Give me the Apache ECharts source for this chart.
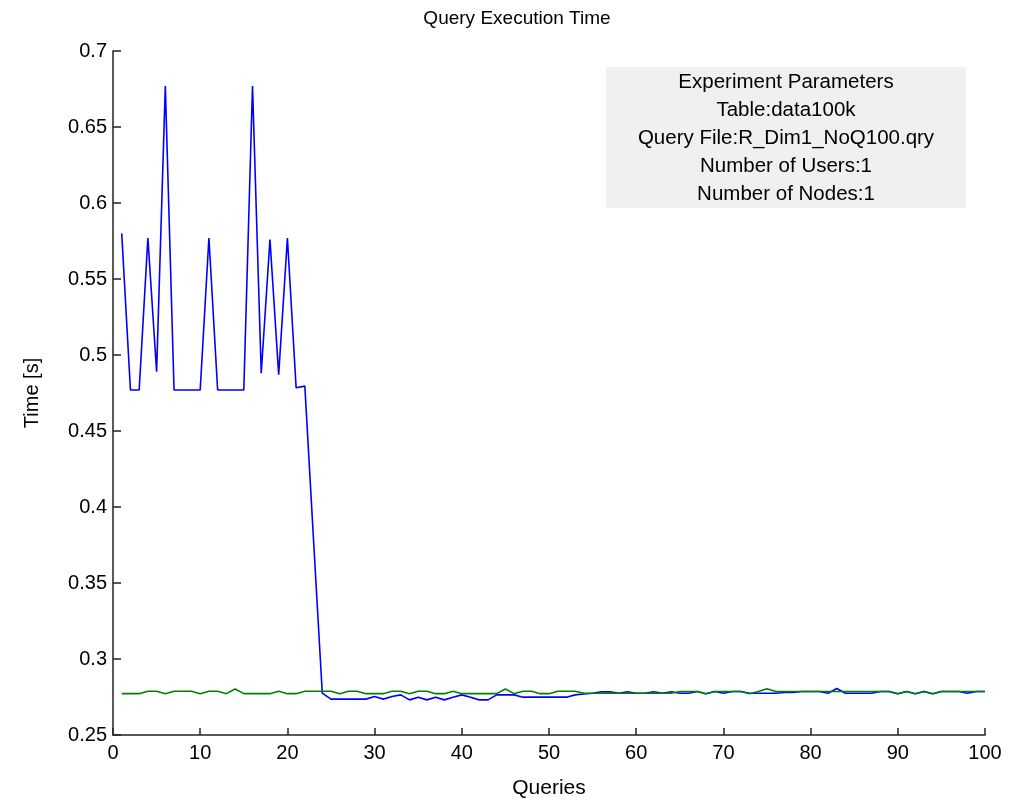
<!DOCTYPE html>
<html>
<head>
<meta charset="utf-8">
<script src="https://cdn.jsdelivr.net/npm/echarts@6/dist/echarts.min.js"></script>
<style>
  html, body { margin: 0; padding: 0; background: #fff; }
  #main { width: 1009px; height: 806px; }
</style>
</head>
<body>
<div id="main"></div>
<script>
// values, one per query (1..100)
var blueTimes = [
    0.580, 0.477, 0.477, 0.577, 0.489, 0.677, 0.477, 0.477, 0.477, 0.477,
    0.577, 0.477, 0.477, 0.477, 0.477, 0.677, 0.488, 0.576, 0.487, 0.577,
    0.4785, 0.4795, 0.378, 0.2775, 0.2736, 0.2736, 0.2736, 0.2736, 0.2736, 0.2753,
    0.2736, 0.2753, 0.2764, 0.2731, 0.2749, 0.2731, 0.2749, 0.2731, 0.2749, 0.2764,
    0.2749, 0.2731, 0.2731, 0.2764, 0.2764, 0.2764, 0.2749, 0.2749, 0.2749, 0.2749,
    0.2749, 0.2749, 0.2764, 0.2770, 0.2775, 0.2784, 0.2784, 0.2775, 0.2784, 0.2775,
    0.2775, 0.2784, 0.2775, 0.2784, 0.2775, 0.2775, 0.2786, 0.2772, 0.2786, 0.2775,
    0.2786, 0.2786, 0.2775, 0.2775, 0.2775, 0.2775, 0.2780, 0.2780, 0.2786, 0.2786,
    0.2786, 0.2775, 0.2806, 0.2775, 0.2775, 0.2775, 0.2775, 0.2786, 0.2786, 0.2772,
    0.2786, 0.2772, 0.2786, 0.2772, 0.2786, 0.2786, 0.2786, 0.2775, 0.2786, 0.2786
];
var greenTimes = [
    0.2772, 0.2772, 0.2772, 0.2788, 0.2788, 0.2772, 0.2788, 0.2788, 0.2788, 0.2772,
    0.2788, 0.2788, 0.2772, 0.2803, 0.2772, 0.2772, 0.2772, 0.2772, 0.2788, 0.2772,
    0.2772, 0.2788, 0.2788, 0.2788, 0.2788, 0.2772, 0.2788, 0.2788, 0.2772, 0.2772,
    0.2772, 0.2788, 0.2788, 0.2772, 0.2788, 0.2788, 0.2772, 0.2772, 0.2788, 0.2772,
    0.2772, 0.2772, 0.2772, 0.2772, 0.2803, 0.2772, 0.2788, 0.2788, 0.2772, 0.2772,
    0.2788, 0.2788, 0.2788, 0.2775, 0.2775, 0.2775, 0.2775, 0.2775, 0.2775, 0.2775,
    0.2775, 0.2775, 0.2775, 0.2775, 0.2786, 0.2786, 0.2786, 0.2772, 0.2786, 0.2786,
    0.2786, 0.2786, 0.2772, 0.2786, 0.2805, 0.2786, 0.2786, 0.2786, 0.2786, 0.2786,
    0.2786, 0.2786, 0.2786, 0.2786, 0.2786, 0.2786, 0.2786, 0.2786, 0.2786, 0.2772,
    0.2786, 0.2772, 0.2786, 0.2772, 0.2786, 0.2786, 0.2786, 0.2786, 0.2786, 0.2786
];
var paramLines = [
    "Experiment Parameters",
    "Table:data100k",
    "Query File:R_Dim1_NoQ100.qry",
    "Number of Users:1",
    "Number of Nodes:1"
];

function toPoints(values) {
    var pts = [];
    for (var i = 0; i < values.length; ++i) {
        pts.push([i + 1, values[i]]);
    }
    return pts;
}

var font = "'Liberation Sans', Arial, sans-serif";
var chart = echarts.init(document.getElementById("main"), null, { renderer: "canvas" });
var option = {
    animation: false,
    backgroundColor: "#fff",
    title: {
        text: "Query Execution Time",
        left: 512,
        top: 4,
        textAlign: "center",
        textStyle: { fontFamily: font, fontSize: 19, fontWeight: "normal", color: "#000" }
    },
    grid: { left: 113, right: 24, top: 51, bottom: 71, containLabel: false },
    xAxis: {
        type: "value",
        min: 0,
        max: 100,
        interval: 10,
        name: "Queries",
        nameLocation: "middle",
        nameGap: 43,
        nameTextStyle: { fontFamily: font, fontSize: 21, color: "#000" },
        axisLine: { show: true, onZero: false, lineStyle: { color: "#222", width: 1.5 } },
        axisTick: { show: true, inside: true, length: 7, lineStyle: { color: "#222", width: 1.5 } },
        axisLabel: { fontFamily: font, fontSize: 20, color: "#000", margin: 8 },
        splitLine: { show: false }
    },
    yAxis: {
        type: "value",
        min: 0.25,
        max: 0.7,
        interval: 0.05,
        name: "Time [s]",
        nameLocation: "middle",
        nameGap: 71,
        nameTextStyle: { fontFamily: font, fontSize: 20, color: "#000" },
        axisLine: { show: true, onZero: false, lineStyle: { color: "#222", width: 1.5 } },
        axisTick: { show: true, inside: true, length: 8, lineStyle: { color: "#222", width: 1.5 } },
        axisLabel: { fontFamily: font, fontSize: 20, color: "#000", margin: 6 },
        splitLine: { show: false }
    },
    series: [
        {
            name: "blue",
            type: "line",
            data: toPoints(blueTimes),
            showSymbol: false,
            symbol: "none",
            lineStyle: { color: "#0000ff", width: 1.6 },
            z: 2
        },
        {
            name: "green",
            type: "line",
            data: toPoints(greenTimes),
            showSymbol: false,
            symbol: "none",
            lineStyle: { color: "#008000", width: 1.6 },
            z: 3
        }
    ],
    graphic: [
        {
            type: "rect",
            left: 606,
            top: 67,
            shape: { width: 360, height: 141 },
            style: { fill: "#f0f0f0" },
            z: 10
        },
        {
            type: "text",
            left: 606,
            top: 68,
            style: {
                text: paramLines.join("\n"),
                width: 360,
                align: "center",
                x: 180,
                textAlign: "center",
                fontFamily: font,
                fontSize: 20.5,
                lineHeight: 28,
                fill: "#000"
            },
            z: 11
        }
    ]
};
chart.setOption(option);
</script>
</body>
</html>
